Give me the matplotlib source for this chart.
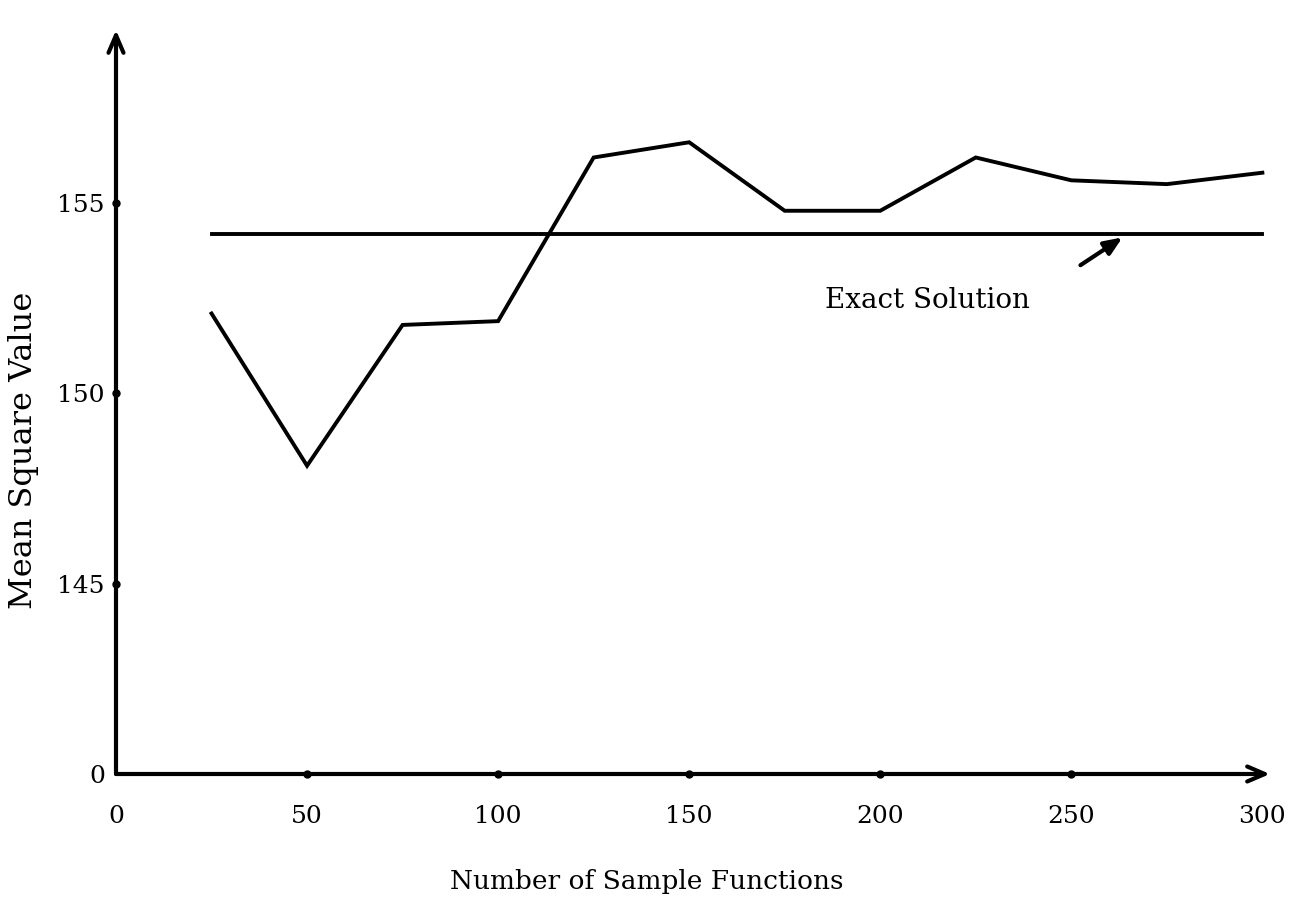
import matplotlib
matplotlib.use('Agg')
import matplotlib.pyplot as plt

plt.rcParams['font.family'] = ['DejaVu Serif']
plt.rcParams['font.size'] = 18

# data
x_samples = [25, 50, 75, 100, 125, 150, 175, 200, 225, 250, 275, 300]
mean_square = [152.1, 148.1, 151.8, 151.9, 156.2, 156.6, 154.8, 154.8, 156.2, 155.6, 155.5, 155.8]
exact_value = 154.2
exact_x = [25, 300]

x_ticks = [0, 50, 100, 150, 200, 250, 300]
# axis is broken: "0" sits one step below 145
y_tick_pos = [140, 145, 150, 155]
y_tick_labels = ['0', '145', '150', '155']

fig = plt.figure(figsize=(12.99, 9.07), dpi=100)
ax = fig.add_axes([116 / 1299, 133 / 907, 1154 / 1299, 744 / 907])
ax.set_xlim(0, 302)
ax.set_ylim(140, 159.55)

for s in ax.spines.values():
    s.set_visible(False)

# axes with open arrow heads
arrow = dict(arrowstyle='->,head_length=0.7,head_width=0.3', lw=3, color='black',
             shrinkA=0, shrinkB=0)
ax.annotate('', xy=(0, 1), xytext=(0, 0), xycoords='axes fraction', arrowprops=arrow)
ax.annotate('', xy=(1, 0), xytext=(0, 0), xycoords='axes fraction', arrowprops=arrow)

# tick dots on the axes
ax.plot([0] * 3, y_tick_pos[1:], 'o', color='black', ms=5, clip_on=False)
ax.plot(x_ticks[1:-1], [140] * 5, 'o', color='black', ms=5, clip_on=False)

ax.set_xticks(x_ticks)
ax.set_yticks(y_tick_pos)
ax.set_yticklabels(y_tick_labels)
ax.tick_params(axis='x', length=0, pad=22)
ax.tick_params(axis='y', length=0, pad=8)

# series
ax.plot(x_samples, mean_square, color='black', lw=2.8, solid_joinstyle='miter')
ax.plot(exact_x, [exact_value] * 2, color='black', lw=2.8)

ax.text(185.6, 152.45, 'Exact Solution', va='center', ha='left', fontsize=20)
ax.annotate('', xy=(263.4, 154.1), xytext=(252.4, 153.37),
            arrowprops=dict(arrowstyle='-|>,head_length=0.6,head_width=0.25',
                            lw=3, color='black', shrinkA=0, shrinkB=0))

fig.text(647 / 1299, 1 - 882 / 907, 'Number of Sample Functions', ha='center', va='center',
         fontsize=19)
fig.text(24 / 1299, 1 - 450 / 907, 'Mean Square Value', ha='center', va='center',
         rotation=90, fontsize=23)

fig.savefig('out.png', dpi=100, facecolor='white')
